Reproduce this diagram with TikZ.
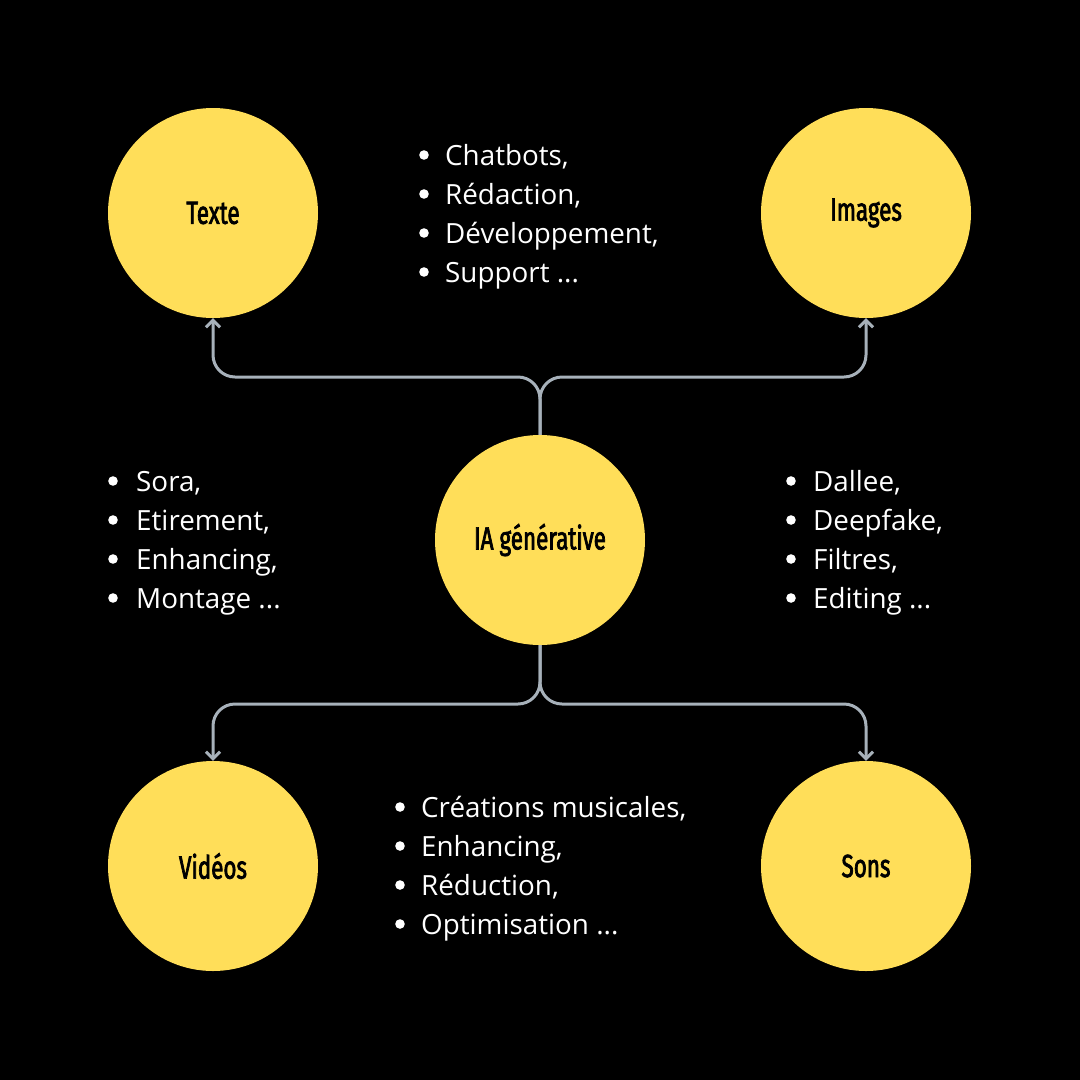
\documentclass[tikz,border=0pt]{standalone}
\usepackage{fontspec}
\usetikzlibrary{arrows.meta}
\setmainfont{Open Sans}
\newfontfamily\headfont[FakeStretch=0.7,FakeBold=2.2]{Fira Sans}[BoldFont=*]
\definecolor{sun}{HTML}{FFDE59}
\definecolor{wire}{HTML}{A7B1BA}
\newcommand\trail{...}
\begin{document}
\begin{tikzpicture}[x=1pt,y=-1pt,
  topic/.style={circle,fill=sun,minimum size=210pt,inner sep=0pt,
    font=\headfont\bfseries\fontsize{32}{36}\selectfont,text=black},
  item/.style={anchor=base west,inner sep=0pt,text=white,
    font=\fontsize{27.8}{32}\selectfont},
  dot/.style={fill=white},
  link/.style={draw=wire,line width=3pt,rounded corners=22pt,
    -{Straight Barb[length=7pt,width=14pt,line width=3pt]}}]
  \fill[black] (0,0) rectangle (1080,1080);
  \useasboundingbox (0,0) rectangle (1080,1080);

  % the five topics
  \node[topic] (ia) at (540,540) {IA générative};
  \node[topic] (tx) at (213,213) {Texte};
  \node[topic] (im) at (866,213) {Images};
  \node[topic] (vd) at (213,866) {Vidéos};
  \node[topic] (sn) at (866,866) {Sons};

  % branching connectors
  \coordinate (up) at (540,377);
  \coordinate (dn) at (540,704);
  \draw[link] (ia.north) -- (up) -| (tx.south);
  \draw[link] (ia.north) -- (up) -| (im.south);
  \draw[link] (ia.south) -- (dn) -| (vd.north);
  \draw[link] (ia.south) -- (dn) -| (sn.north);

  % bullet lists: a dot, then the entry
  \foreach \t [count=\i] in {{Chatbots,},{Rédaction,},{Développement,},{Support \trail}}{
    \fill[dot] (424,155+39*\i-39) circle (4.8pt);
    \node[item] (a\i) at (445,165+39*\i-39) {\t};}
  \foreach \t [count=\i] in {{Sora,},{Etirement,},{Enhancing,},{Montage \trail}}{
    \fill[dot] (113,481+39*\i-39) circle (4.8pt);
    \node[item] (b\i) at (136,491+39*\i-39) {\t};}
  \foreach \t [count=\i] in {{Dallee,},{Deepfake,},{Filtres,},{Editing \trail}}{
    \fill[dot] (791,481+39*\i-39) circle (4.8pt);
    \node[item] (c\i) at (813,491+39*\i-39) {\t};}
  \foreach \t [count=\i] in {{Créations musicales,},{Enhancing,},{Réduction,},{Optimisation \trail}}{
    \fill[dot] (400,807+39*\i-39) circle (4.8pt);
    \node[item] (d\i) at (421,817+39*\i-39) {\t};}
\end{tikzpicture}
\end{document}
